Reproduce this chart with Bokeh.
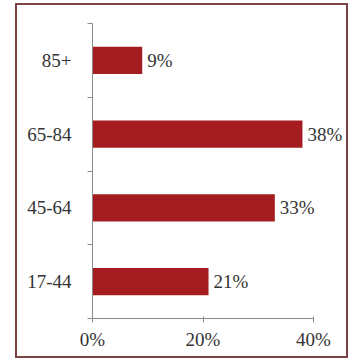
from bokeh.plotting import figure
from bokeh.models import ColumnDataSource, FixedTicker, LabelSet
from bokeh.embed import file_html
from bokeh.resources import INLINE

categories = ["17-44", "45-64", "65-84", "85+"]
values = [21, 33, 38, 9]
value_labels = ["21%", "33%", "38%", "9%"]
x_ticks = [0, 20, 40]
x_tick_labels = ["0%", "20%", "40%"]

positions = [i + 0.5 for i in range(len(categories))]
src = ColumnDataSource(dict(y=positions, v=values, lab=value_labels))

FONT = "Liberation Serif"
TXT = "#333333"
AX = "#8a8a8a"

W, H = 333, 355
LEFT, TOP, BOTTOM = 75, 18, 42
frame_w = W - LEFT
p = figure(width=W, height=H, output_backend="svg", toolbar_location=None,
           x_range=(0, 40 * frame_w / 221), y_range=(0, 4),
           min_border_left=LEFT, min_border_right=0, min_border_top=TOP, min_border_bottom=BOTTOM,
           margin=(3, 0, 0, 15),
           styles={"border": "2px solid #7d4242"})
p.outline_line_color = None
p.xgrid.visible = False
p.ygrid.visible = False

p.hbar(y="y", right="v", left=0, height=0.37, source=src, fill_color="#a51c20", line_color=None)

p.add_layout(LabelSet(x="v", y="y", text="lab", source=src, x_offset=5, text_baseline="middle",
                      text_font=FONT, text_font_size="19px", text_color=TXT))

ya = p.yaxis[0]
ya.ticker = FixedTicker(ticks=positions, minor_ticks=[0, 1, 2, 3, 4])
ya.major_label_overrides = {pos: c for pos, c in zip(positions, categories)}
ya.major_tick_line_color = None
ya.major_tick_out = 0
ya.major_tick_in = 0
ya.minor_tick_line_color = AX
ya.minor_tick_out = 5
ya.minor_tick_in = 0
ya.axis_line_color = AX
ya.major_label_text_font = FONT
ya.major_label_text_font_size = "19px"
ya.major_label_text_color = TXT
ya.major_label_standoff = 16

xa = p.xaxis[0]
xa.ticker = FixedTicker(ticks=x_ticks, minor_ticks=[])
xa.bounds = (0, 40)
xa.major_label_overrides = {t: l for t, l in zip(x_ticks, x_tick_labels)}
xa.major_tick_line_color = AX
xa.major_tick_out = 4
xa.major_tick_in = 2
xa.axis_line_color = AX
xa.major_label_text_font = FONT
xa.major_label_text_font_size = "19px"
xa.major_label_text_color = TXT
xa.major_label_standoff = 6

open("out.html", "w").write(file_html(p, INLINE))
